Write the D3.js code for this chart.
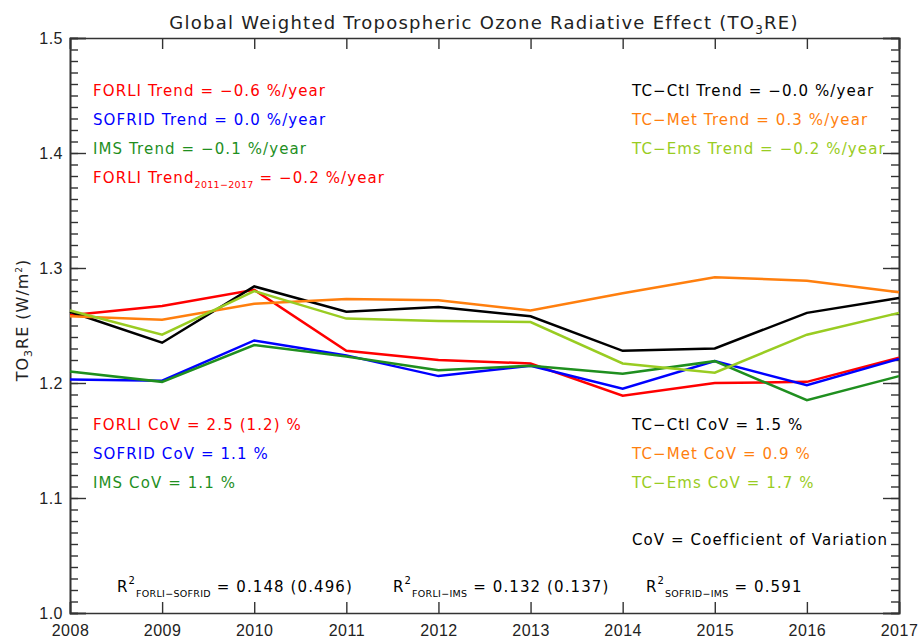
<!DOCTYPE html>
<html>
<head>
<meta charset="utf-8">
<script src="https://cdn.jsdelivr.net/npm/d3@7"></script>
<style>
  body { margin: 0; background: #fff; }
  svg { font-family: "DejaVu Sans", sans-serif; }
</style>
</head>
<body>
<script>
const years = [2008, 2009, 2010, 2011, 2012, 2013, 2014, 2015, 2016, 2017];

const forli  = [1.259, 1.267, 1.281, 1.228, 1.220, 1.217, 1.189, 1.200, 1.201, 1.222];
const sofrid = [1.203, 1.202, 1.237, 1.224, 1.206, 1.215, 1.195, 1.219, 1.198, 1.221];
const ims    = [1.210, 1.201, 1.233, 1.223, 1.211, 1.215, 1.208, 1.219, 1.185, 1.206];
const tcCtl  = [1.262, 1.235, 1.284, 1.262, 1.266, 1.258, 1.228, 1.230, 1.261, 1.274];
const tcMet  = [1.258, 1.255, 1.269, 1.273, 1.272, 1.263, 1.278, 1.292, 1.289, 1.279];
const tcEms  = [1.263, 1.242, 1.280, 1.256, 1.254, 1.253, 1.217, 1.209, 1.242, 1.261];

const yMajorTicks = [1.0, 1.1, 1.2, 1.3, 1.4, 1.5];

const series = [
    { name: 'FORLI',  values: forli,  color: '#ff0000' },
    { name: 'SOFRID', values: sofrid, color: '#0000ff' },
    { name: 'IMS',    values: ims,    color: '#1f8f1f' },
    { name: 'TC-Ctl', values: tcCtl,  color: '#000000' },
    { name: 'TC-Met', values: tcMet,  color: '#ff7f0e' },
    { name: 'TC-Ems', values: tcEms,  color: '#99cc22' }
];

const margin = {top: 38, right: 21, bottom: 27, left: 70},
      width = 920 - margin.left - margin.right,
      height = 640 - margin.top - margin.bottom;

const root = d3.select("body").append("svg")
    .attr("width", 920)
    .attr("height", 640);

const svg = root.append("g")
    .attr("transform", `translate(${margin.left},${margin.top})`);

const x = d3.scaleLinear()
    .domain([2008, 2017])
    .range([0, width]);

const y = d3.scaleLinear()
    .domain([1.0, 1.5])
    .range([height, 0]);

const minorTicks = d3.range(100, 151).map(d => d / 100);
const axisColor = '#333';

// minor ticks left / right
svg.append("g")
    .call(d3.axisLeft(y).tickValues(minorTicks).tickSize(-8).tickFormat(""));
svg.append("g")
    .attr("transform", `translate(${width},0)`)
    .call(d3.axisRight(y).tickValues(minorTicks).tickSize(-8).tickFormat(""));

// major ticks
svg.append("g")
    .call(d3.axisLeft(y).tickValues(yMajorTicks).tickSize(-16).tickPadding(7).tickFormat(d3.format(".1f")));
svg.append("g")
    .attr("transform", `translate(${width},0)`)
    .call(d3.axisRight(y).tickValues(yMajorTicks).tickSize(-16).tickFormat(""));

svg.append("g")
    .attr("transform", `translate(0,${height})`)
    .call(d3.axisBottom(x).tickValues(years).tickSize(-11).tickPadding(12).tickFormat(d3.format("d")));
svg.append("g")
    .call(d3.axisTop(x).tickValues(years).tickSize(-11).tickFormat(""));

svg.selectAll(".domain").attr("stroke", axisColor).attr("stroke-width", 1.6);
svg.selectAll(".tick line").attr("stroke", axisColor).attr("stroke-width", 1.4);
svg.selectAll(".tick text").attr("fill", "#222").style("font-size", "16px").style("letter-spacing", "0.5px");

// lines
const line = d3.line()
    .x((d, i) => x(years[i]))
    .y(d => y(d));

svg.selectAll(".series")
    .data(series)
    .enter().append("path")
    .attr("class", "series")
    .attr("d", d => line(d.values))
    .attr("fill", "none")
    .attr("stroke", d => d.color)
    .attr("stroke-width", 2.5);

// title
const title = root.append("text")
    .attr("x", 484)
    .attr("y", 29)
    .attr("text-anchor", "middle")
    .attr("fill", "#222")
    .style("font-size", "18px")
    .style("letter-spacing", "1.25px");
title.append("tspan").text("Global Weighted Tropospheric Ozone Radiative Effect (TO");
title.append("tspan").attr("dy", 5).style("font-size", "12px").text("3");
title.append("tspan").attr("dy", -5).text("RE)");

// y label
const ylab = root.append("text")
    .attr("transform", "translate(28,320) rotate(-90)")
    .attr("text-anchor", "middle")
    .attr("fill", "#222")
    .style("font-size", "16px")
    .style("letter-spacing", "1px");
ylab.append("tspan").text("TO");
ylab.append("tspan").attr("dy", 4).style("font-size", "11px").text("3");
ylab.append("tspan").attr("dy", -4).text("RE (W/m");
ylab.append("tspan").attr("dy", -6).style("font-size", "9px").text("2");
ylab.append("tspan").attr("dy", 6).text(")");

// annotations
function note(px, py, color, parts) {
    const t = root.append("text")
        .attr("x", px)
        .attr("y", py)
        .attr("fill", color)
        .style("font-size", "15px")
        .style("letter-spacing", "1.1px");
    parts.forEach(p => {
        const s = t.append("tspan").text(p.t);
        if (p.sub) s.attr("dy", 5).style("font-size", "9.5px").style("letter-spacing", "0.3px");
        if (p.sup) s.attr("dy", -8).style("font-size", "10px");
        if (p.back) s.attr("dy", p.back);
    });
}

note(93, 96,  '#ff0000', [{t: 'FORLI Trend = −0.6 %/year'}]);
note(93, 125, '#0000ff', [{t: 'SOFRID Trend = 0.0 %/year'}]);
note(93, 154, '#1f8f1f', [{t: 'IMS Trend = −0.1 %/year'}]);
note(93, 183, '#ff0000', [{t: 'FORLI Trend'}, {t: '2011−2017', sub: true}, {t: ' = −0.2 %/year', back: -5}]);

note(632, 96,  '#000000', [{t: 'TC−Ctl Trend = −0.0 %/year'}]);
note(632, 125, '#ff7f0e', [{t: 'TC−Met Trend = 0.3 %/year'}]);
note(632, 154, '#99cc22', [{t: 'TC−Ems Trend = −0.2 %/year'}]);

note(93, 430, '#ff0000', [{t: 'FORLI CoV = 2.5 (1.2) %'}]);
note(93, 459, '#0000ff', [{t: 'SOFRID CoV = 1.1 %'}]);
note(93, 488, '#1f8f1f', [{t: 'IMS CoV = 1.1 %'}]);

note(632, 430, '#000000', [{t: 'TC−Ctl CoV = 1.5 %'}]);
note(632, 459, '#ff7f0e', [{t: 'TC−Met CoV = 0.9 %'}]);
note(632, 488, '#99cc22', [{t: 'TC−Ems CoV = 1.7 %'}]);

note(632, 545, '#000000', [{t: 'CoV = Coefficient of Variation'}]);

note(117, 592, '#000000', [{t: 'R'}, {t: '2', sup: true}, {t: 'FORLI−SOFRID', sub: true, back: 13}, {t: ' = 0.148 (0.496)', back: -5}]);
note(393, 592, '#000000', [{t: 'R'}, {t: '2', sup: true}, {t: 'FORLI−IMS', sub: true, back: 13}, {t: ' = 0.132 (0.137)', back: -5}]);
note(646, 592, '#000000', [{t: 'R'}, {t: '2', sup: true}, {t: 'SOFRID−IMS', sub: true, back: 13}, {t: ' = 0.591', back: -5}]);
</script>
</body>
</html>
